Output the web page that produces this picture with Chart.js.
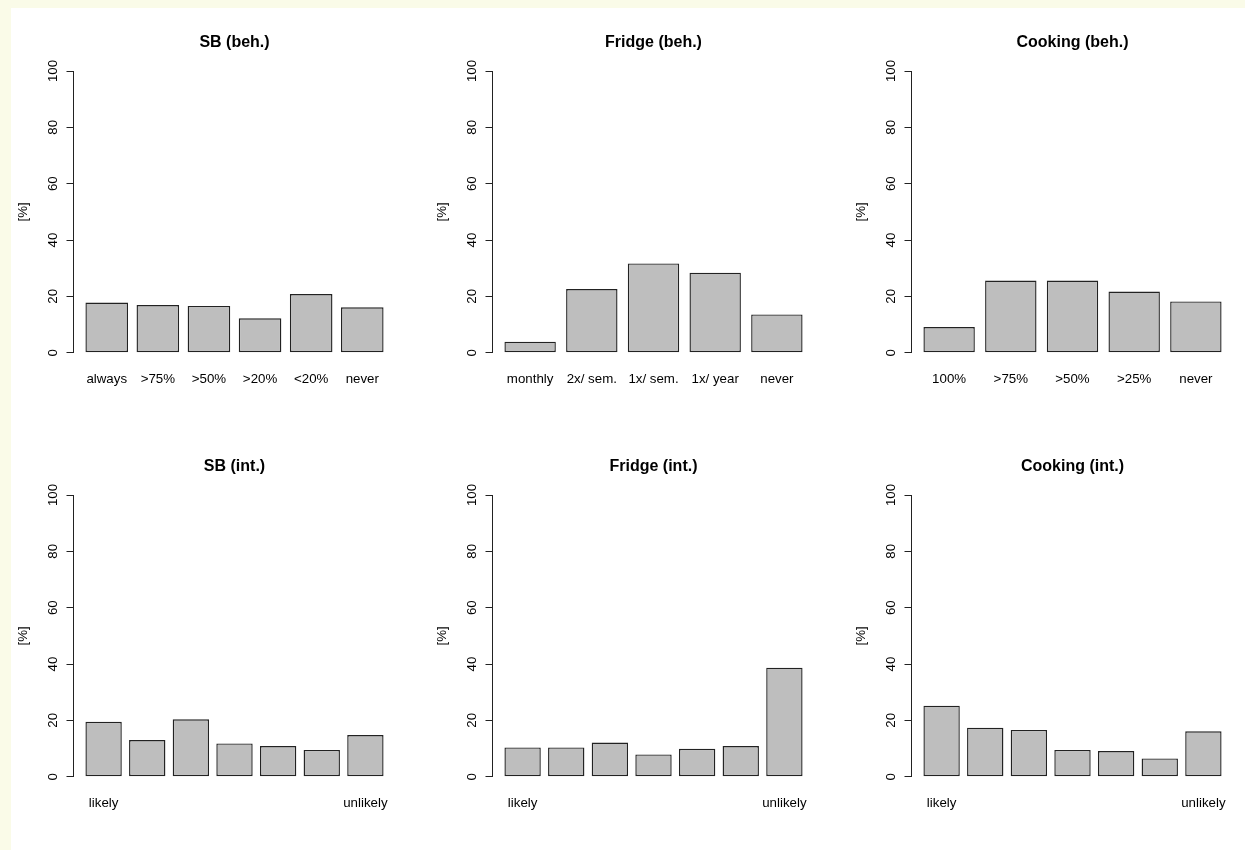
<!DOCTYPE html>
<html>
<head>
  <title>Behaviour and intention</title>
  <script src="https://cdn.jsdelivr.net/npm/chart.js"></script>
  <style>
    html, body { margin: 0; padding: 0; background: #fafbe8; overflow: hidden; }
    #sheet { position: absolute; left: 11px; top: 8px; width: 1300px; height: 900px; background: #fff; }
    canvas { position: absolute; }
  </style>
</head>
<body>
  <div id="sheet"></div>
  <canvas id="c0" width="419" height="424" style="left:11px;top:8px"></canvas>
  <canvas id="c1" width="419" height="424" style="left:430px;top:8px"></canvas>
  <canvas id="c2" width="419" height="424" style="left:849px;top:8px"></canvas>
  <canvas id="c3" width="419" height="424" style="left:11px;top:432px"></canvas>
  <canvas id="c4" width="419" height="424" style="left:430px;top:432px"></canvas>
  <canvas id="c5" width="419" height="424" style="left:849px;top:432px"></canvas>

  <script>
    // values, in percent
    const sbBehLabels = ['always', '>75%', '>50%', '>20%', '<20%', 'never'];
    const sbBeh = [17.8, 16.9, 16.6, 12.2, 20.8, 16.1];

    const fridgeBehLabels = ['monthly', '2x/ sem.', '1x/ sem.', '1x/ year', 'never'];
    const fridgeBeh = [3.9, 22.6, 31.7, 28.4, 13.6];

    const cookBehLabels = ['100%', '>75%', '>50%', '>25%', 'never'];
    const cookBeh = [9.1, 25.6, 25.6, 21.7, 18.2];

    const intLabels = ['likely', '', '', '', '', '', 'unlikely'];
    const sbInt = [19.5, 13.0, 20.4, 11.8, 10.9, 9.5, 14.8];
    const fridgeInt = [10.4, 10.4, 12.1, 7.9, 9.9, 10.9, 38.7];
    const cookInt = [25.2, 17.4, 16.6, 9.5, 9.1, 6.5, 16.1];

    const yTicks = [0, 20, 40, 60, 80, 100];

    Chart.defaults.font.family = '"Liberation Sans", Arial, sans-serif';
    Chart.defaults.font.size = 13.3;
    Chart.defaults.color = '#000';

    const INK = '#222';

    // barplot layout like R: bar width 1, space 0.2, axis range padded by 4%
    const makeChart = (id, title, labels, values) => {
      const n = values.length;
      const lo = 0.2, hi = 1.2 * n;
      const pad = (hi - lo) * 0.04;
      const centers = labels.map((_, i) => 0.7 + 1.2 * i);

      return new Chart(document.getElementById(id), {
        type: 'bar',
        data: {
          datasets: [{
            data: values.map((v, i) => ({ x: centers[i], y: v })),
            backgroundColor: '#bebebe',
            borderColor: INK,
            borderWidth: 1.4,
            borderSkipped: false,
            categoryPercentage: 1,
            barPercentage: 1 / 1.2
          }]
        },
        options: {
          responsive: false,
          animation: false,
          layout: { padding: { left: 0, right: 34.5, top: 0, bottom: 0 } },
          plugins: {
            legend: { display: false },
            tooltip: { enabled: false },
            title: {
              display: true,
              text: title,
              fullSize: false,
              color: '#000',
              font: { size: 16, weight: 'bold' },
              padding: { top: 25, bottom: 18.8 }
            }
          },
          scales: {
            x: {
              type: 'linear',
              offset: false,
              min: lo - pad,
              max: hi + pad,
              grid: { display: false },
              border: { display: false },
              afterBuildTicks: s => { s.ticks = centers.map(v => ({ value: v })); },
              afterFit: s => { s.height = 79.3; },
              ticks: {
                autoSkip: false,
                minRotation: 0,
                maxRotation: 0,
                padding: 10.5,
                callback: (v, i) => labels[i]
              }
            },
            y: {
              min: 0,
              max: 100,
              afterBuildTicks: s => { s.ticks = yTicks.map(v => ({ value: v })); },
              afterFit: s => { s.width = 62.5; },
              border: { display: true, color: INK, width: 1 },
              grid: { display: true, drawOnChartArea: false, drawTicks: true, tickLength: 7, color: INK },
              ticks: {
                minRotation: 90,
                maxRotation: 90,
                crossAlign: 'center',
                padding: 2.5
              },
              title: { display: true, text: '[%]', color: '#000', padding: { top: 4.5, bottom: 0 } }
            }
          }
        }
      });
    };

    makeChart('c0', 'SB (beh.)', sbBehLabels, sbBeh);
    makeChart('c1', 'Fridge (beh.)', fridgeBehLabels, fridgeBeh);
    makeChart('c2', 'Cooking (beh.)', cookBehLabels, cookBeh);
    makeChart('c3', 'SB (int.)', intLabels, sbInt);
    makeChart('c4', 'Fridge (int.)', intLabels, fridgeInt);
    makeChart('c5', 'Cooking (int.)', intLabels, cookInt);
  </script>
</body>
</html>
